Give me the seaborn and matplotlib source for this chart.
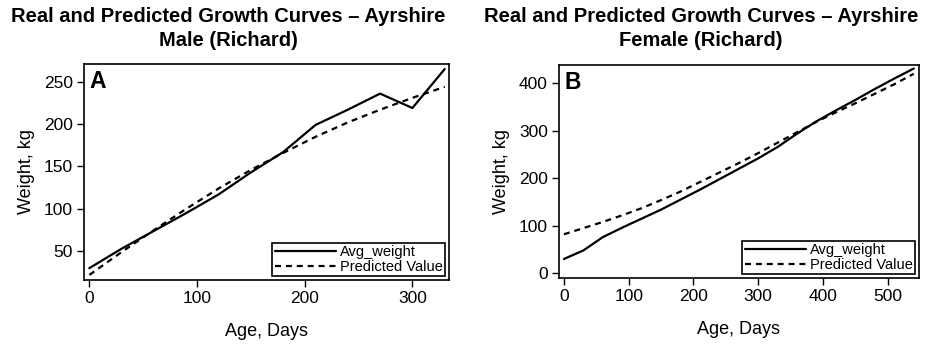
import matplotlib
matplotlib.use("Agg")
import matplotlib.pyplot as plt
import seaborn as sns
import pandas as pd

sns.set_theme(style="ticks")
plt.rcParams['font.family'] = ['Liberation Sans', 'DejaVu Sans']
plt.rcParams.update({"text.color": "black", "axes.labelcolor": "black",
                     "xtick.color": "black", "ytick.color": "black",
                     "xtick.labelcolor": "black", "ytick.labelcolor": "black"})

male_days = [0, 30, 60, 90, 120, 150, 180, 210, 240, 270, 300, 330]
male_avg = [30, 53, 74, 95, 117, 143, 167, 199, 217, 236, 219, 265]
male_pred = [22, 49, 75, 100, 124, 146, 166, 185, 202, 217, 231, 244]

female_days = [0, 30, 60, 90, 120, 150, 180, 210, 240, 270, 300, 330,
               360, 390, 420, 450, 480, 510, 540]
female_avg = [30, 48, 76, 96, 115, 134, 155, 176, 198, 220, 242, 266,
              294, 320, 343, 365, 388, 410, 431]
female_pred = [82, 95, 108, 122, 137, 154, 172, 192, 212, 232, 253, 275,
               297, 319, 339, 358, 378, 398, 420]

series_names = ["Avg_weight", "Predicted Value"]
titles = ["Real and Predicted Growth Curves \u2013 Ayrshire\nMale (Richard)",
          "Real and Predicted Growth Curves \u2013 Ayrshire\nFemale (Richard)"]
panel_labels = ["A", "B"]
x_label = "Age, Days"
y_label = "Weight, kg"

fig = plt.figure(figsize=(9.3, 3.53), dpi=100)
axA = fig.add_axes([0.0903, 0.2068, 0.3925, 0.612])
axB = fig.add_axes([0.601, 0.2125, 0.3871, 0.6034])

def draw(ax, days, avg, pred):
    df = pd.DataFrame({
        "day": days + days,
        "weight": avg + pred,
        "series": [series_names[0]] * len(days) + [series_names[1]] * len(days),
    })
    sns.lineplot(data=df, x="day", y="weight", style="series",
                 style_order=series_names,
                 dashes={series_names[0]: "", series_names[1]: (2.7, 2.2)},
                 color="black", linewidth=1.6, ax=ax)
    ax.set_xlabel(x_label, fontsize=13, labelpad=12, color="black")
    ax.set_ylabel(y_label, fontsize=13, labelpad=6, color="black")
    ax.tick_params(axis="both", labelsize=12.5, direction="out", length=5,
                   width=1, color="black", labelcolor="black", pad=3,
                   top=False, right=False)
    for s in ax.spines.values():
        s.set_visible(True)
        s.set_color("black")
        s.set_linewidth(1.2)
    leg = ax.legend(loc="lower right", fontsize=10.5, frameon=True,
                    fancybox=False, edgecolor="black", handlelength=4.2,
                    borderpad=0.15, labelspacing=0.1, handletextpad=0.3,
                    borderaxespad=0.25)
    leg.get_frame().set_linewidth(1.2)
    leg.get_frame().set_alpha(1)
    for line in leg.get_lines():
        line.set_linewidth(1.6)
    for txt in leg.get_texts():
        txt.set_color("black")

draw(axA, male_days, male_avg, male_pred)
axA.set_xlim(-5, 334)
axA.set_ylim(16, 271)
axA.set_xticks([0, 100, 200, 300])
axA.set_yticks([50, 100, 150, 200, 250])

draw(axB, female_days, female_avg, female_pred)
axB.set_xlim(-7.7, 548)
axB.set_ylim(-10, 438.5)
axB.set_xticks([0, 100, 200, 300, 400, 500])
axB.set_yticks([0, 100, 200, 300, 400])

for ax, lab in zip([axA, axB], panel_labels):
    ax.text(0.015, 0.97, lab, transform=ax.transAxes, fontsize=16.5,
            fontweight="bold", va="top", ha="left", color="black")

title_x = [228 / 930, 701 / 930]
for tx, t in zip(title_x, titles):
    fig.text(tx, 1 - 7 / 353, t, ha="center", va="top", fontsize=14.5,
             fontweight="bold", linespacing=1.35, color="black",
             family=['Liberation Sans Narrow', 'Liberation Sans', 'DejaVu Sans'])

fig.savefig("out.png", dpi=100, facecolor="white")
